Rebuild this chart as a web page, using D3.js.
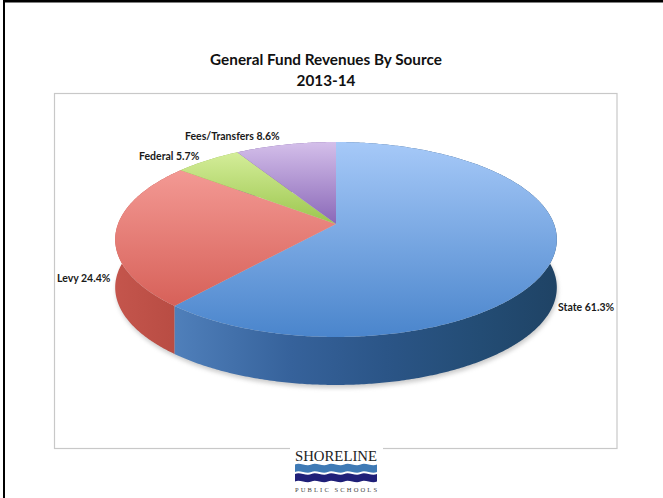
<!DOCTYPE html>
<html><head><meta charset="utf-8">
<script src="https://cdn.jsdelivr.net/npm/d3@7/dist/d3.min.js"></script>
<style>html,body{margin:0;padding:0;background:#fff}svg{display:block}text{font-family:Lato,"Open Sans",sans-serif}</style>
</head><body><svg id="c" width="663" height="498"></svg>
<script>
const categories = ["State","Levy","Federal","Fees/Transfers"];
const values = [61.3,24.4,5.7,8.6];
const titleLines = ["General Fund Revenues By Source","2013-14"];
const topStops = [["#a6c9f8","#4a85cc"],["#f9a5a0","#d65f57"],["#dcf3a4","#9cc64e"],["#d4bfea","#8a68b8"]];
const wallStops = [
  [[0,"#4f7fba"],[.3,"#36629b"],[.55,"#2b5587"],[.8,"#234c74"],[1,"#1f4365"]],
  [[0,"#c4554c"],[1,"#b84c43"]],[[0,"#8fb04a"],[1,"#8fb04a"]],[[0,"#7a5ba3"],[1,"#7a5ba3"]]];
const labelAnchors = [[558,311],[57,282],[139,160],[185,140]];

const svg = d3.select("#c"), defs = svg.append("defs");
// page rules and chart frame
svg.append("rect").attr("x",3).attr("y",0).attr("width",2).attr("height",498).attr("fill","#000");
svg.append("rect").attr("x",3).attr("y",0).attr("width",660).attr("height",2.5).attr("fill","#000");
svg.append("rect").attr("x",54.5).attr("y",93.5).attr("width",562.5).attr("height",355).attr("fill","#fff").attr("stroke","#c8c8c8").attr("stroke-width",1.2);

titleLines.forEach((t,i)=>svg.append("text").attr("x",326).attr("y",65+i*21).attr("text-anchor","middle")
  .attr("font-size",15.3).attr("font-weight",700).attr("fill","#111").text(t));

// projected disc: perspective makes the near half larger than the far half
const ax=336, ay=224, b=218, a=95, k=0.159, depth=48;
const pr=(ang,r=1)=>{const u=r*Math.sin(ang), v=-r*Math.cos(ang), d=1-k*v; return [ax+b*u/d, ay+a*v/d];};
const slices=d3.pie().sort(null).value(d=>d)(values);
const line=d3.line();
const rim=s=>{const n=Math.max(2,Math.ceil((s.endAngle-s.startAngle)/0.01));
  return d3.range(n+1).map(i=>pr(s.startAngle+(s.endAngle-s.startAngle)*i/n));};

slices.forEach((s,i)=>{
  const tg=defs.append("linearGradient").attr("id","t"+i).attr("gradientUnits","userSpaceOnUse")
    .attr("x1",0).attr("x2",0).attr("y1",142).attr("y2",i==0?337:(i==1?310:224));
  tg.append("stop").attr("offset",0).attr("stop-color",topStops[i][0]);
  tg.append("stop").attr("offset",1).attr("stop-color",topStops[i][1]);
  const wg=defs.append("linearGradient").attr("id","w"+i).attr("gradientUnits","userSpaceOnUse")
    .attr("x1",i==1?116:176).attr("x2",i==1?178:557).attr("y1",0).attr("y2",0);
  wallStops[i].forEach(c=>wg.append("stop").attr("offset",c[0]).attr("stop-color",c[1]));
});
defs.append("filter").attr("id","blur").attr("x","-10%").attr("y","-10%").attr("width","120%").attr("height","120%")
  .append("feGaussianBlur").attr("stdDeviation",2);

// soft shadow beneath the disc
const whole=d3.range(0,361,2).map(d=>pr(d*Math.PI/180));
svg.append("path").attr("d",line(whole.map(p=>[p[0]+1,p[1]+depth+3]))+"Z").attr("fill","#999").attr("opacity",.5).attr("filter","url(#blur)");

const g=svg.append("g");
slices.forEach((s,i)=>{
  const r=rim(s);
  g.append("path").attr("d",line(r.concat(r.slice().reverse().map(p=>[p[0],p[1]+depth])))+"Z").attr("fill",`url(#w${i})`);
});
slices.forEach((s,i)=>{
  g.append("path").attr("d",line([[ax,ay]].concat(rim(s)))+"Z").attr("fill",`url(#t${i})`);
});

categories.forEach((c,i)=>svg.append("text").attr("x",labelAnchors[i][0]).attr("y",labelAnchors[i][1])
  .attr("font-size",10.5).attr("font-weight",700).attr("fill","#1a1a1a").text(`${c} ${values[i].toFixed(1)}%`));

// logo
const logo=svg.append("g");
logo.append("rect").attr("x",290).attr("y",446).attr("width",93).attr("height",52).attr("fill","#fff");
logo.append("text").attr("x",336).attr("y",461).attr("text-anchor","middle").attr("textLength",82).attr("lengthAdjust","spacingAndGlyphs")
  .attr("style","font-family:'Liberation Serif',serif").attr("font-size",15).attr("fill","#222").text("SHORELINE");
const wave=(y,h)=>{const w=d3.path();w.moveTo(295,y);
  [0,1,2,3,4].forEach(i=>{const x=295+i*16.4;w.bezierCurveTo(x+5,y-2.5,x+11,y+2.5,x+16.4,y);});
  w.lineTo(377,y+h);
  [4,3,2,1,0].forEach(i=>{const x=295+i*16.4;w.bezierCurveTo(x+11,y+h+2.5,x+5,y+h-2.5,x,y+h);});
  w.closePath();return w.toString();};
logo.append("path").attr("d",wave(464.5,7.5)).attr("fill","#3f7ab5");
logo.append("path").attr("d",wave(474,7.5)).attr("fill","#1f1f78");
logo.append("text").attr("x",336).attr("y",491.5).attr("text-anchor","middle").attr("textLength",82)
  .attr("style","font-family:'Liberation Serif',serif").attr("font-size",6.5).attr("fill","#444").text("PUBLIC SCHOOLS");
</script></body></html>
